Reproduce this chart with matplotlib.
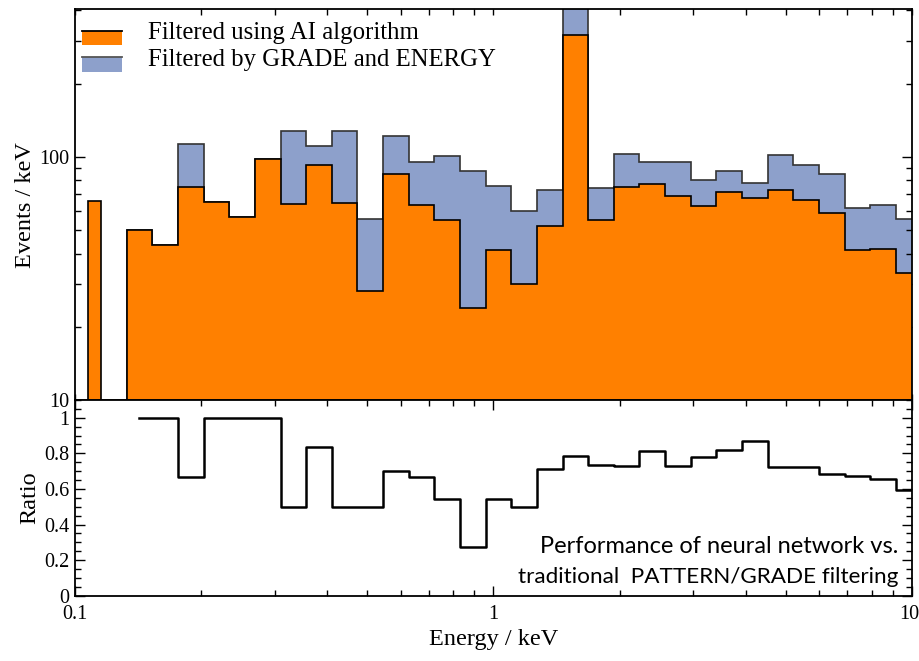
import matplotlib
matplotlib.use("Agg")
import matplotlib.pyplot as plt
import matplotlib.transforms as mtransforms
import numpy as np
from matplotlib.legend_handler import HandlerBase
from matplotlib.patches import Patch, Rectangle
from matplotlib.lines import Line2D
from matplotlib.ticker import FuncFormatter, NullFormatter, MultipleLocator, LogLocator

# energy binning (keV): first partial bin, one empty bin, then regular log bins
e_start = 0.1076
log_lo = -0.9984      # log10 of nominal lower edge of the first bin
dlog = 0.061227       # bin width in log10(keV)
n_bins = 33

# counts per keV, one value per bin (second bin is empty)
ai_filtered = [66, 0,
               50.0, 43.2, 74.8, 65.3, 56.5, 98.2, 64.1, 92.7, 64.5, 28.0,
               85.1, 63.1, 55.0, 23.8, 41.5, 30.0, 52.0, 317, 55.1, 75.1,
               77.3, 69.3, 62.5, 71.8, 67.5, 73.2, 66.2, 58.7, 41.4, 41.9, 33.3]
grade_filtered = [0, 0,
                  50.0, 43.2, 112.5, 65.3, 56.5, 98.2, 128, 111, 128, 55.6,
                  121.6, 94.8, 100.9, 87.3, 76.0, 60.0, 72.8, 410, 74.6, 102.6,
                  94.8, 95.3, 80.4, 87.3, 77.7, 101.3, 92.2, 85.1, 61.4, 63.5, 55.6]
# ratio AI / GRADE for the bins from the third bin on
ratio = [1.0, 1.0, 0.667, 1.0, 1.0, 1.0, 0.5, 0.833, 0.5, 0.5,
         0.7, 0.667, 0.545, 0.273, 0.545, 0.5, 0.713, 0.787, 0.736, 0.730,
         0.811, 0.727, 0.777, 0.820, 0.869, 0.725, 0.721, 0.685, 0.670, 0.657, 0.596]

edges = 10 ** (log_lo + dlog * np.arange(n_bins + 1))
edges[0] = e_start

ORANGE = "#FF8000"
BLUE = "#8DA0CB"
serif = "Liberation Serif"
plt.rcParams["font.family"] = serif


class TopLineHandler(HandlerBase):
    # filled box with a line along its top edge, sitting a bit low like the original
    def create_artists(self, legend, orig_handle, xdescent, ydescent,
                       width, height, fontsize, trans):
        y0 = -ydescent - 0.3 * fontsize
        rect = Rectangle((-xdescent, y0), width, height,
                         facecolor=orig_handle.get_facecolor(), edgecolor="none",
                         transform=trans)
        line = Line2D([-xdescent, -xdescent + width], [y0 + height] * 2,
                      color=orig_handle.get_edgecolor(), lw=1.3, transform=trans)
        return [rect, line]


fig = plt.figure(figsize=(9.2, 6.61), dpi=100)
ax1 = fig.add_axes([0.0812, 0.3949, 0.9104, 0.5910])
ax2 = fig.add_axes([0.0812, 0.0988, 0.9104, 0.2961], sharex=ax1)

# top panel: GRADE first, AI drawn over it
ax1.stairs(grade_filtered, edges, fill=True, color=BLUE, baseline=1, zorder=1)
ax1.stairs(grade_filtered, edges, color="#333333", lw=1.2, baseline=1, zorder=1.5)
ax1.stairs(ai_filtered, edges, fill=True, color=ORANGE, baseline=1, zorder=1.6)
ax1.stairs(ai_filtered, edges, color="black", lw=1.2, baseline=1, zorder=1.7)

ax1.set_xscale("log")
ax1.set_yscale("log")
ax1.set_xlim(0.1, 10)
ax1.set_ylim(10, 404)
ax1.set_ylabel("Events / keV", fontsize=17.5, labelpad=2.5)

handles = [Patch(facecolor=ORANGE, edgecolor="black"),
           Patch(facecolor=BLUE, edgecolor="#555555")]
ax1.legend(handles, ["Filtered using AI algorithm", "Filtered by GRADE and ENERGY"],
           handler_map={Patch: TopLineHandler()}, loc="upper left",
           bbox_to_anchor=(0.0087, 0.9667), frameon=False, fontsize=17.8,
           handlelength=1.6, handleheight=0.52, handletextpad=1.05,
           labelspacing=0.18, borderaxespad=0, borderpad=0)

# bottom panel: ratio as a step line starting at the centre of the first bin
centers = np.sqrt(edges[:-1] * edges[1:])
xs = np.concatenate([[centers[2]], np.repeat(edges[3:-1], 2), [edges[-1]]])
ys = np.repeat(ratio, 2)
ax2.plot(xs, ys, color="black", lw=1.8)
ax2.set_ylim(0, 1.1)
ax2.set_ylabel("Ratio", fontsize=17.5, labelpad=2.5)
ax2.set_xlabel("Energy / keV", fontsize=17.5, labelpad=3)
ax2.yaxis.set_major_locator(MultipleLocator(0.2))
ax2.yaxis.set_minor_locator(MultipleLocator(0.05))
ax2.yaxis.set_major_formatter(FuncFormatter(lambda v, p: f"{v:g}"))

ax2.text(0.983, 0.218, "Performance of neural network vs.",
         transform=ax2.transAxes, ha="right", va="baseline", fontsize=17,
         family="Lato")
ax2.text(0.983, 0.065, "traditional  PATTERN/GRADE filtering",
         transform=ax2.transAxes, ha="right", va="baseline", fontsize=16.2,
         family="Lato")

for ax in (ax1, ax2):
    ax.tick_params(which="both", direction="in", top=True, right=True,
                   labelsize=14.5, pad=4, width=1.0)
    ax.tick_params(which="major", length=7)
    ax.tick_params(which="minor", length=4)
    for s in ax.spines.values():
        s.set_linewidth(1.3)

ax1.xaxis.set_major_locator(LogLocator(base=10))
ax1.xaxis.set_minor_locator(LogLocator(base=10, subs=np.arange(2, 10)))
ax1.yaxis.set_minor_locator(LogLocator(base=10, subs=np.arange(2, 10)))
ax1.yaxis.set_major_formatter(FuncFormatter(lambda v, p: f"{v:g}"))
ax1.yaxis.set_minor_formatter(NullFormatter())
ax2.xaxis.set_major_formatter(FuncFormatter(lambda v, p: f"{v:g}"))
ax2.xaxis.set_minor_formatter(NullFormatter())
ax1.tick_params(labelbottom=False)
ax1.tick_params(axis="x", which="both", length=4)
ax2.tick_params(axis="x", which="major", length=7)
ax2.tick_params(axis="x", which="both", pad=7)

# keep the "10" label at the right end inside the canvas
fig.canvas.draw()
shift = mtransforms.ScaledTranslation(-3 / 100, 0, fig.dpi_scale_trans)
for lbl in ax2.get_xticklabels():
    if lbl.get_text() == "10":
        lbl.set_transform(lbl.get_transform() + shift)

fig.savefig("out.png", dpi=100)
